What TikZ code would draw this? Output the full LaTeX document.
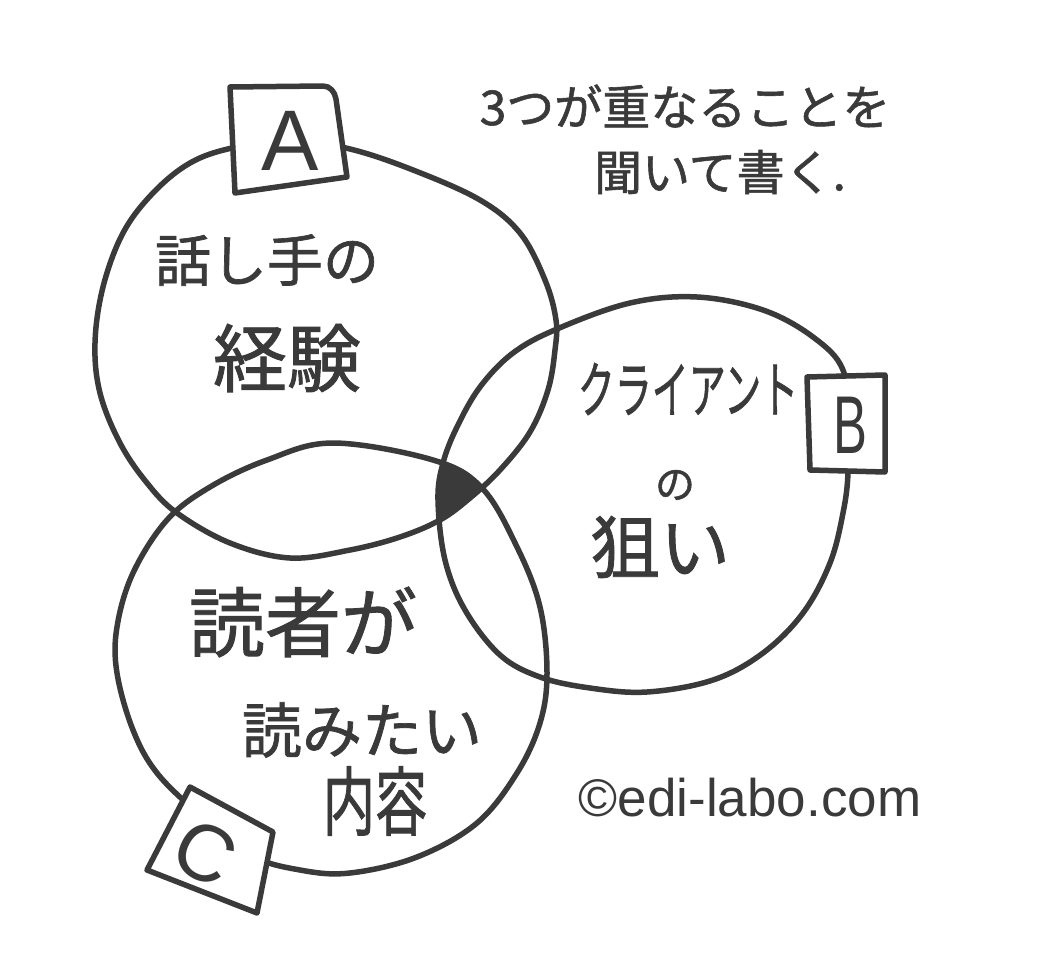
\documentclass[tikz,border=0pt]{standalone}
\usepackage{fontspec}
\setmainfont{Liberation Sans}
\newfontfamily\jp[FakeBold=1.2]{Noto Sans CJK JP}
\newcommand\myfs[1]{\fontsize{#1}{#1}\selectfont}
\definecolor{ink}{HTML}{3A3A3A}
\tikzset{
  outline/.style={draw=ink, line width=5.5pt, line join=round, line cap=round},
  boxline/.style={draw=ink, fill=white, line width=5.5pt, line join=round},
  txt/.style={text=ink, inner sep=0pt, anchor=center},
}
\def\shapeA{plot[smooth cycle, tension=0.6] coordinates {(290,140) (350,149) (413,170) (480,200) (520,233) (545,280) (556,320) (555,350) (548,390) (530,432) (500,470) (470,498) (440,520) (400,537) (350,550) (290,558) (230,543) (177,513) (147,483) (120,443) (100,393) (95,343) (103,287) (123,233) (153,193) (190,163) (232,148)}}
\def\shapeB{plot[smooth cycle, tension=0.6] coordinates {(557,329) (630,303) (697,297) (763,310) (813,337) (843,370) (847,423) (848,473) (843,513) (830,563) (803,613) (763,653) (713,680) (647,692) (590,688) (540,677) (500,655) (465,610) (445,560) (438,500) (443,463) (457,427) (480,387) (513,353)}}
\def\shapeC{plot[smooth cycle, tension=0.6] coordinates {(333,443) (433,460) (482,488) (517,547) (540,607) (547,673) (540,723) (517,773) (477,823) (417,857) (350,873) (300,870) (250,855) (200,815) (157,773) (133,730) (117,673) (117,627) (133,573) (167,520) (210,487) (267,460)}}
\begin{document}
\begin{tikzpicture}[x=1pt,y=-1pt]
\useasboundingbox (0,0) rectangle (1052,955);
\fill[white] (0,0) rectangle (1052,955);
% triple overlap
\begin{scope}
  \clip \shapeA;
  \clip \shapeB;
  \fill[ink] \shapeC;
\end{scope}
% circles
\draw[outline] \shapeA;
\draw[outline] \shapeB;
\draw[outline] \shapeC;
% label boxes
\draw[boxline] (230,87) -- (323,86) to[out=0,in=100] (336,99) -- (347,177) -- (235,193) -- cycle;
\draw[boxline] (807,377) -- (885,375) -- (885,472) -- (810,470) -- cycle;
\draw[boxline] (190,787) -- (273,832) -- (257,913) -- (147,870) -- cycle;
\node[txt] (la) at (290,141) {\myfs{86}A};
\node[txt] (lb) at (850,425) {\scalebox{0.62}[1]{\myfs{82}B}};
\node[txt, rotate=-28] (lc) at (205,853) {\myfs{80}C};
% texts
\node[txt] (t1) at (685,106) {\jp\myfs{48}3つが重なることを};
\node[txt] (t2) at (720,172) {\jp\myfs{48}聞いて書く.};
\node[txt] (a1) at (267,260) {\jp\myfs{56}話し手の};
\node[txt] (a2) at (287,358) {\jp\myfs{74}経験};
\node[txt] (b1) at (688,389) {\scalebox{0.66}[1.1]{\jp\myfs{56}クライアント}};
\node[txt] (b2) at (675,485) {\jp\myfs{40}の};
\node[txt] (b3) at (660,547) {\jp\myfs{70}狙い};
\node[txt] (c1) at (303,622) {\jp\myfs{76}読者が};
\node[txt] (c2) at (362,730) {\jp\myfs{60}読みたい};
\node[txt] (c3) at (375,801) {\scalebox{0.9}[1.3]{\jp\myfs{58}内容}};
\node[txt] (cr) at (750,798) {\myfs{53}©edi-labo.com};
\end{tikzpicture}
\end{document}
